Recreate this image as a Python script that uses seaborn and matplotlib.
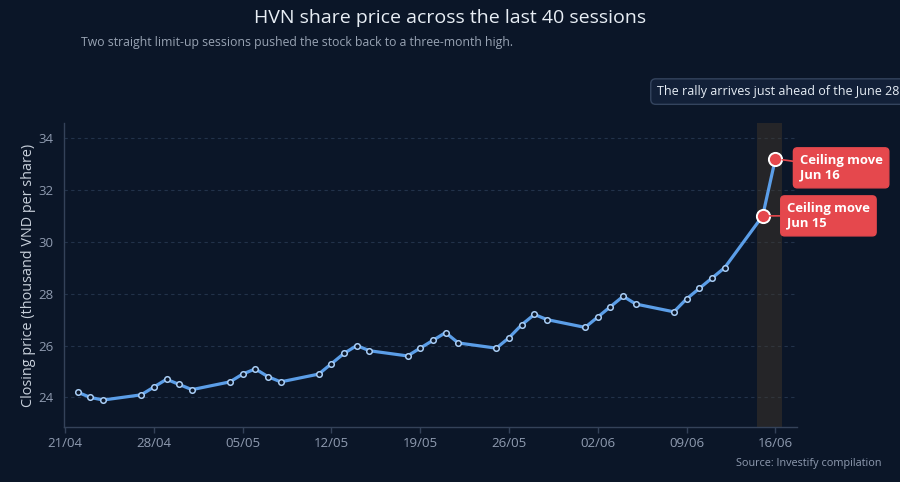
import pandas as pd
import numpy as np
import matplotlib
matplotlib.use('Agg')
import matplotlib.pyplot as plt
import matplotlib.dates as mdates
import seaborn as sns

# ------- data --------------------------- #
session_dates = ['2026-04-22', '2026-04-23', '2026-04-24',
                 '2026-04-27', '2026-04-28', '2026-04-29', '2026-04-30', '2026-05-01',
                 '2026-05-04', '2026-05-05', '2026-05-06', '2026-05-07', '2026-05-08',
                 '2026-05-11', '2026-05-12', '2026-05-13', '2026-05-14', '2026-05-15',
                 '2026-05-18', '2026-05-19', '2026-05-20', '2026-05-21', '2026-05-22',
                 '2026-05-25', '2026-05-26', '2026-05-27', '2026-05-28', '2026-05-29',
                 '2026-06-01', '2026-06-02', '2026-06-03', '2026-06-04', '2026-06-05',
                 '2026-06-08', '2026-06-09', '2026-06-10', '2026-06-11', '2026-06-12',
                 '2026-06-15', '2026-06-16']
close_price = [24.2, 24.0, 23.9,
               24.1, 24.4, 24.7, 24.5, 24.3,
               24.6, 24.9, 25.1, 24.8, 24.6,
               24.9, 25.3, 25.7, 26.0, 25.8,
               25.6, 25.9, 26.2, 26.5, 26.1,
               25.9, 26.3, 26.8, 27.2, 27.0,
               26.7, 27.1, 27.5, 27.9, 27.6,
               27.3, 27.8, 28.2, 28.6, 29.0,
               31.0, 33.2]
ceiling_dates = ['2026-06-15', '2026-06-16']
ceiling_labels = ['Ceiling move\nJun 15', 'Ceiling move\nJun 16']
ceiling_offsets = [(17.5, 0), (17.5, -6.5)]   # points

df = pd.DataFrame({'date': pd.to_datetime(session_dates), 'close': close_price})

bg = '#0b1628'
line_col = '#5b9ee8'
red = '#e5484d'
tick_col = '#8f9bb0'
axis_col = '#344259'

sns.set_theme(style='dark')
plt.rcParams['font.family'] = ['Open Sans', 'DejaVu Sans']

fig = plt.figure(figsize=(9, 4.82), dpi=100, facecolor=bg)
ax = fig.add_axes([0.0711, 0.1141, 0.8145, 0.6307])
ax.set_facecolor(bg)

# shaded window around the two limit-up sessions
ax.axvspan(pd.Timestamp('2026-06-15') - pd.Timedelta(hours=11),
           pd.Timestamp('2026-06-16') + pd.Timedelta(hours=13),
           color='#45392a', alpha=0.45, lw=0, zorder=1)

sns.lineplot(data=df, x='date', y='close', ax=ax, color=line_col, lw=2.3,
             marker='o', markersize=4, markerfacecolor=bg, markeredgecolor='#a9cdf5',
             markeredgewidth=1.1, zorder=3)

ceil = df[df['date'].isin(pd.to_datetime(ceiling_dates))]
ax.plot(ceil['date'], ceil['close'], 'o', ms=9.5, mfc=red, mec='white', mew=1.4, zorder=5)

for d, lab, off in zip(ceiling_dates, ceiling_labels, ceiling_offsets):
    y = df.loc[df['date'] == pd.Timestamp(d), 'close'].iloc[0]
    ax.annotate(lab, xy=(pd.Timestamp(d), y), xytext=off, textcoords='offset points',
                ha='left', va='center', color='white', fontsize=9.4, fontweight='bold',
                linespacing=1.15,
                bbox=dict(boxstyle='round,pad=0.48,rounding_size=0.3', fc=red, ec=red),
                arrowprops=dict(arrowstyle='-', color=red, lw=1.2, shrinkA=0, shrinkB=5),
                zorder=6, annotation_clip=False)

ax.set_xlim(pd.Timestamp('2026-04-20 22:00'), pd.Timestamp('2026-06-17 17:00'))
ax.set_ylim(22.86, 34.58)
ax.set_yticks([24, 26, 28, 30, 32, 34])
ax.xaxis.set_major_locator(mdates.WeekdayLocator(byweekday=mdates.TU))
ax.xaxis.set_major_formatter(mdates.DateFormatter('%d/%m'))

ax.grid(axis='y', color='#22324a', lw=0.8, ls=(0, (3, 3)))
ax.grid(axis='x', visible=False)
for s in ['top', 'right']:
    ax.spines[s].set_visible(False)
for s in ['left', 'bottom']:
    ax.spines[s].set_visible(True)
    ax.spines[s].set_color(axis_col)
    ax.spines[s].set_linewidth(1)
ax.tick_params(axis='both', colors=axis_col, labelcolor=tick_col, labelsize=9.5,
               length=4, width=1, direction='out', bottom=True, left=False)
ax.set_xlabel('')
ax.set_ylabel('Closing price (thousand VND per share)', color='#c9d1dc', fontsize=10.4, labelpad=2)

fig.text(0.5, 0.963, 'HVN share price across the last 40 sessions', ha='center', va='center',
         color='#e8eef5', fontsize=14)
fig.text(0.09, 0.912, 'Two straight limit-up sessions pushed the stock back to a three-month high.',
         ha='left', va='center', color='#98a3b3', fontsize=8.8)
fig.text(0.73, 0.81, 'The rally arrives just ahead of the June 28', ha='left', va='center',
         color='#e6edf5', fontsize=9,
         bbox=dict(boxstyle='round,pad=0.5,rounding_size=0.4', fc='#122038', ec='#34445e', lw=1))
fig.text(0.98, 0.039, 'Source: Investify compilation', ha='right', va='center',
         color=tick_col, fontsize=7.85)

fig.savefig('out.png', dpi=100, facecolor=bg)
